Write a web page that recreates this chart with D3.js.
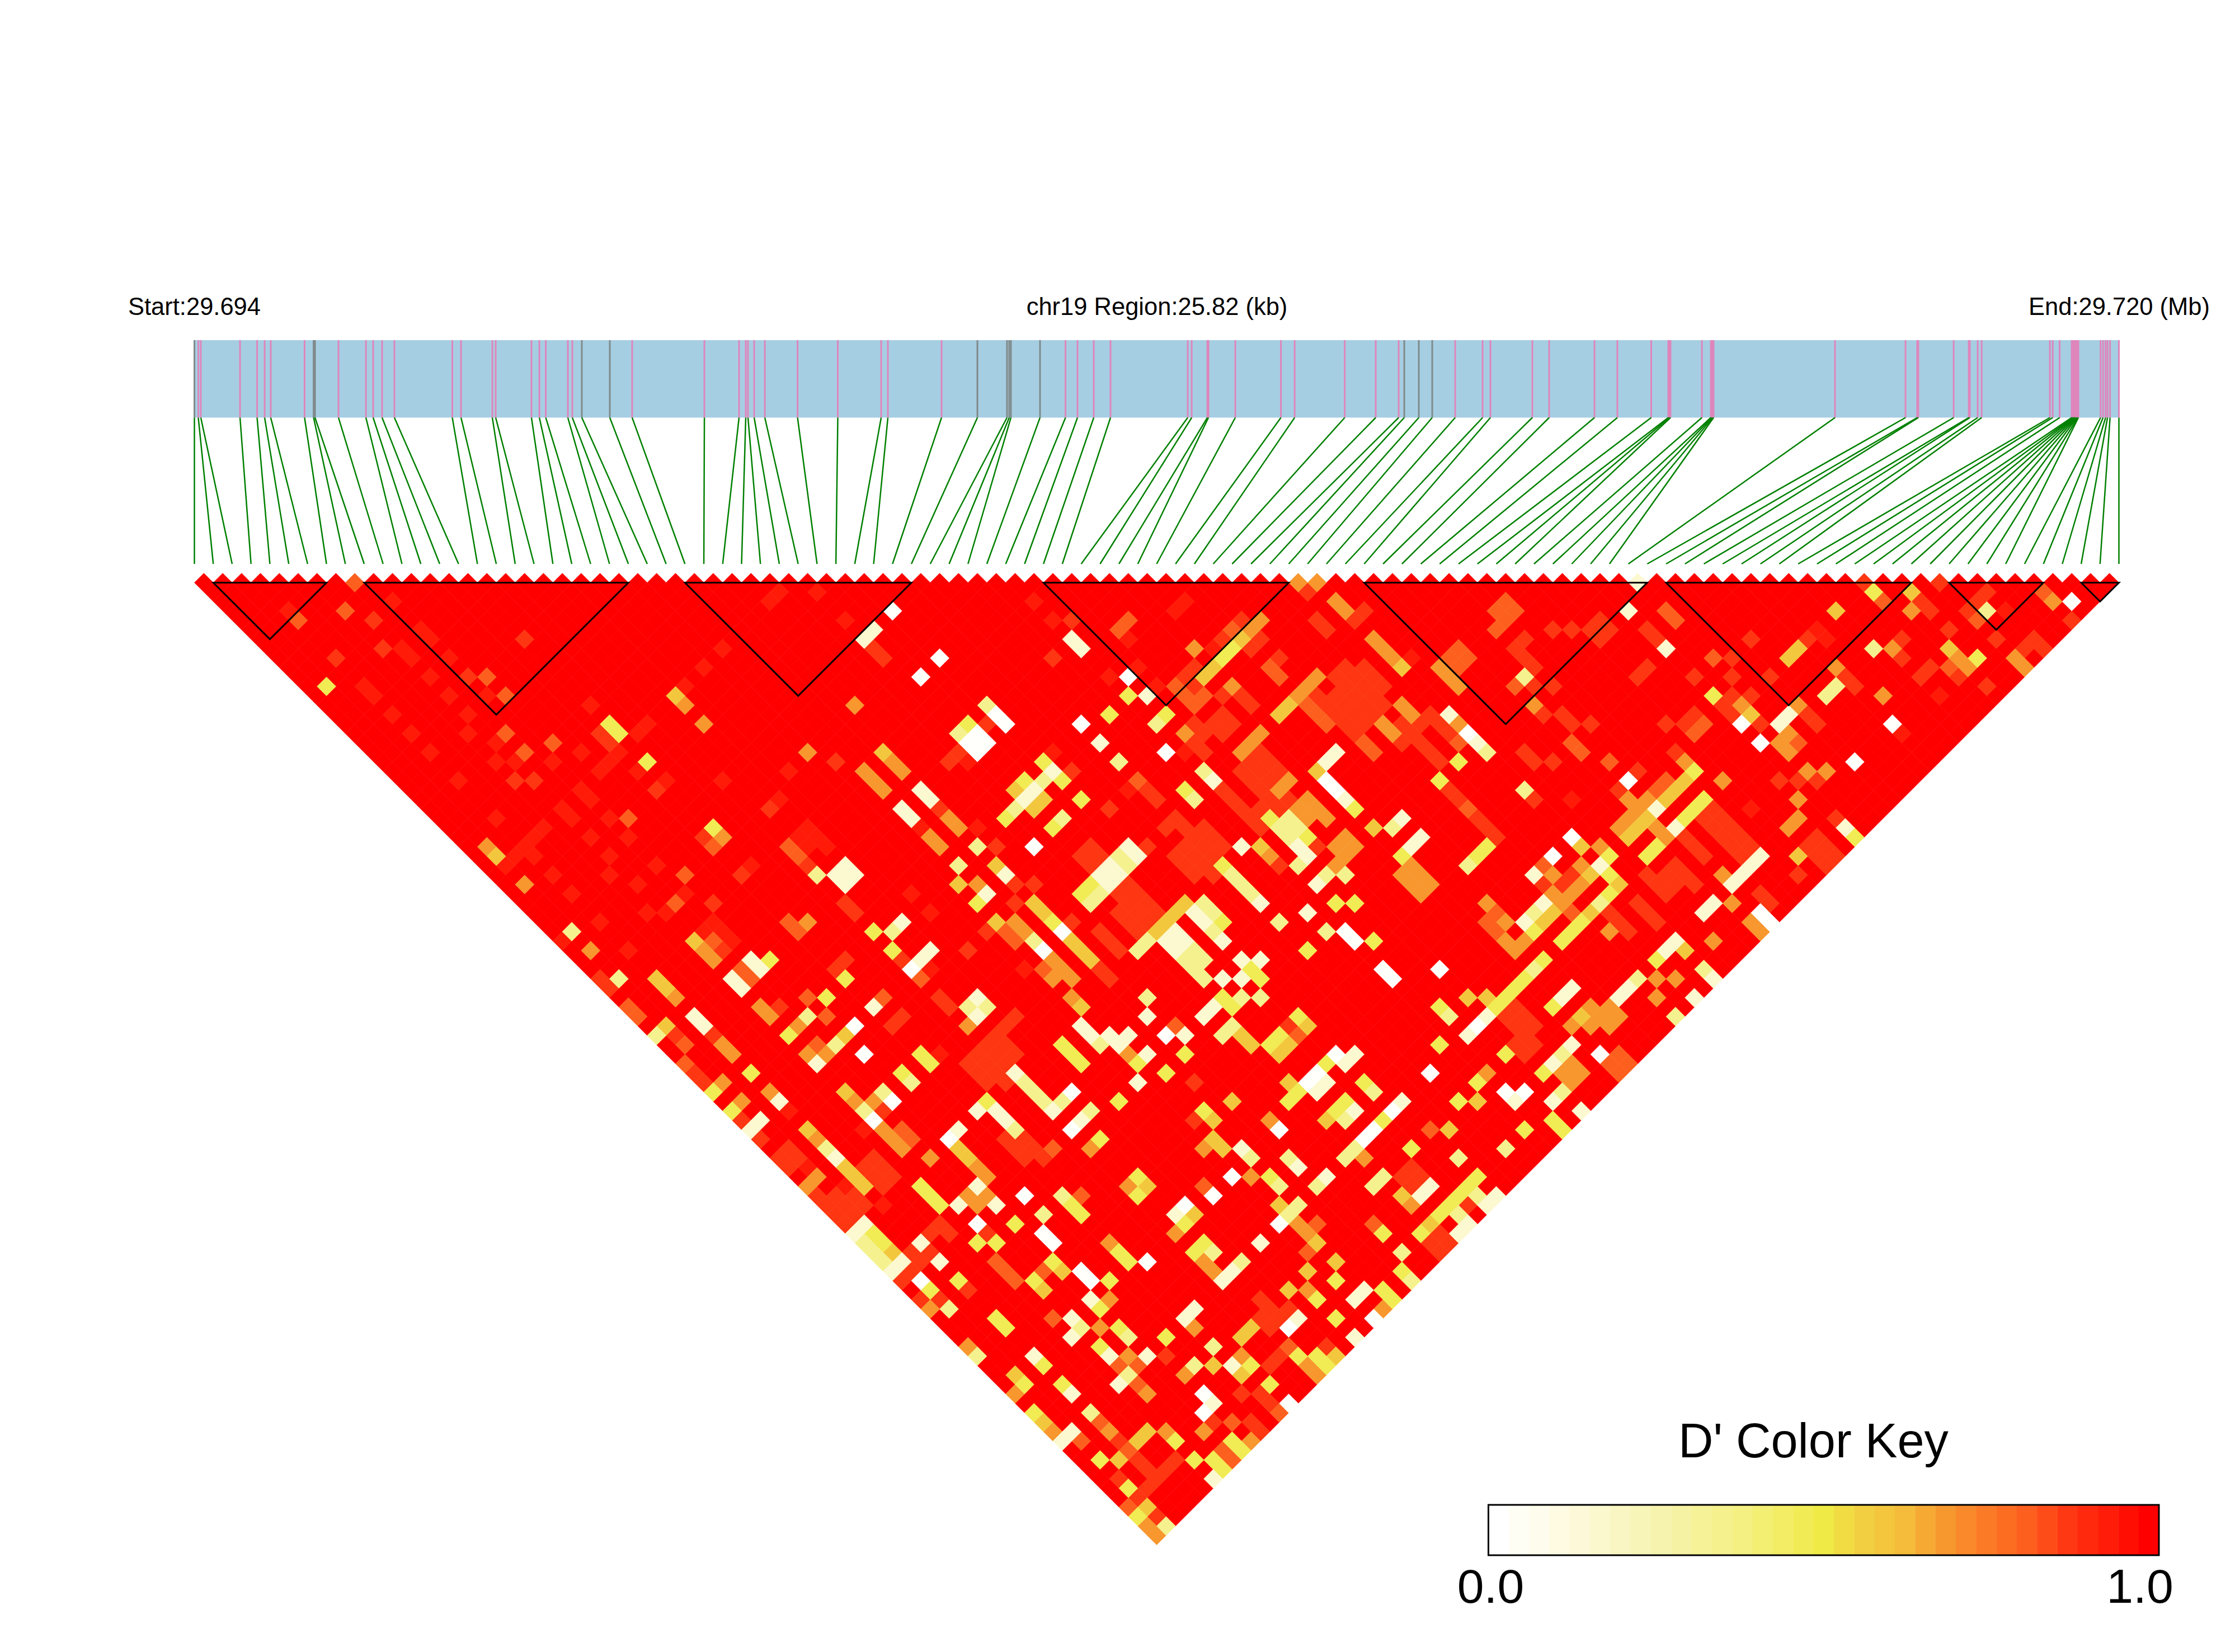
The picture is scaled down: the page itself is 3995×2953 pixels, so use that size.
<!DOCTYPE html>
<html><head><meta charset="utf-8">
<script src="https://cdnjs.cloudflare.com/ajax/libs/d3/7.8.5/d3.min.js"></script>
<style>html,body{margin:0;padding:0;background:#fff}svg{display:block}text{font-family:"Liberation Sans",Arial,sans-serif;fill:#000}</style>
</head><body><svg id="c" width="3995" height="2953"></svg>
<script>
// D' levels
const W=0.01,C=0.15,L=0.34,Y=0.47,G=0.59,O=0.69,D=0.81,E=0.88,F=0.94;
const snpCount=103;
const regionSpan=25820;
const regionStart="Start:29.694", regionName="chr19 Region:25.82 (kb)", regionEnd="End:29.720 (Mb)";
const keyTitle="D' Color Key", keyLabels=["0.0","1.0"];
// physical positions on the region (bp offset from start)
const snpPos=[0,52,86,612,841,942,1024,1478,1599,1618,1933,2301,2398,2518,2683,3460,3577,3997,4042,4522,4628,4714,5010,5070,5198,5573,5873,6842,7307,7397,7427,7510,7653,8092,8632,9214,9304,10024,10505,10902,10932,10955,11345,11687,11848,12066,12291,13327,13380,13590,13605,13965,14577,14761,15433,15849,16157,16232,16427,16607,16915,17283,17388,17950,18176,18784,19091,19545,19774,19789,19804,20225,20345,20357,20370,20382,22011,22957,23114,23129,23603,23805,23820,23925,23978,24894,24932,25025,25186,25201,25212,25224,25235,25246,25257,25269,25276,25574,25607,25641,25667,25701,25820];
const greyMarkers=[0,8,9,24,25,38,39,40,41,42,57,58,59];
// LD blocks [first snp, last snp]
const blocks=[[1,7],[9,23],[26,38],[45,58],[62,77],[78,91],[93,98],[100,102]];
// cell readings: [i+j, j-i-1, D'] ; every pair not listed has D'=1
const cellsBands=[[116,23,E],[115,24,E],[118,23,O],[119,24,O],[120,25,O],[117,24,O],[118,25,O],[114,9,D],[115,10,D],[115,8,E],[121,10,E],[122,11,E],[123,12,E],[124,13,E],[125,14,E],[122,9,E],[123,10,E],[124,11,E],[125,12,E],[126,13,E],[119,12,E],[120,13,E],[121,14,E],[122,15,E],[123,16,E],[121,12,E],[122,13,E],[123,14,E],[124,15,E],[128,15,E],[129,16,E],[130,17,E],[131,18,E],[132,19,E],[131,14,E],[132,15,E],[133,16,E],[134,17,D],[133,22,E],[134,23,E],[135,24,D],[136,25,E],[137,26,E],[138,27,E],[137,34,O],[138,35,D],[139,36,O],[138,37,D],[139,38,O],[137,36,D],[131,31,O],[132,32,O],[133,33,O],[134,32,E],[135,33,E],[134,34,O],[135,35,O],[136,36,D],[99,32,E],[100,33,E],[101,34,E],[102,35,E],[98,33,E],[99,34,E],[100,35,E],[101,36,E],[98,35,E],[99,36,E],[100,37,E],[105,28,E],[106,29,E],[107,30,E],[108,31,E],[106,27,E],[107,28,E],[108,29,E],[113,24,E],[121,28,O],[122,29,O],[123,28,O],[122,27,O],[121,30,O],[128,31,O],[129,32,O],[130,33,O],[131,32,O],[125,33,E],[126,34,D],[127,35,E],[109,22,E],[110,23,E],[111,24,E],[112,25,E],[113,26,E],[111,20,E],[112,21,E],[113,22,E],[114,23,E],[115,25,E],[116,26,E],[143,32,E],[144,33,O],[145,34,O],[146,35,D],[147,32,O],[146,33,O],[145,32,E],[146,31,E],[143,30,D],[154,31,E],[155,32,E],[156,33,E],[156,31,E],[157,32,E],[157,30,E],[158,31,E],[159,32,E],[150,35,E],[151,36,E],[152,37,E],[153,34,E],[154,35,E],[155,36,E],[162,27,E],[163,28,E],[164,29,E],[163,26,E],[164,27,E],[165,28,E],[158,27,E],[159,28,E],[160,29,E],[166,33,E],[167,34,E],[172,27,E],[173,28,E],[174,29,E],[171,28,E],[172,29,E],[173,30,E],[170,31,E],[178,24,F],[142,8,E],[143,9,E],[144,10,E],[140,7,E],[141,8,E],[142,9,E],[141,6,E],[84,49,E],[85,50,E],[86,51,E],[85,52,E],[84,53,E],[86,53,E],[86,59,E],[87,60,E],[88,61,E],[89,60,E],[90,61,E],[91,60,D],[88,59,E],[85,72,D],[86,73,D],[87,74,D],[103,71,E],[104,72,E],[105,73,E],[103,73,E],[104,74,E],[104,54,O],[105,55,O],[106,53,E],[113,76,E],[114,77,E],[115,78,E],[116,77,E],[113,78,E],[114,79,E],[112,50,O],[113,51,O],[114,52,O],[113,49,E],[148,45,O],[149,46,O],[150,47,O],[151,46,O],[150,45,O],[146,53,O],[147,52,O],[150,51,D],[151,52,D],[152,51,D],[151,50,D],[140,60,D],[141,61,D],[142,62,D],[141,59,E],[142,60,D],[143,61,D],[117,68,O],[118,69,O],[119,68,D],[125,68,D],[131,70,E],[132,71,E],[133,70,E],[132,69,E],[140,45,E],[141,46,E],[139,46,E],[140,47,E],[141,48,E],[142,47,E],[143,47,E],[142,49,E],[140,49,E],[141,50,E]];
const cellsUpperLeft=[[17,0,D],[21,2,F],[10,3,F],[11,4,D],[16,3,D],[19,4,E],[24,5,F],[25,6,F],[35,6,E],[20,7,E],[22,7,F],[23,8,F],[15,8,E],[27,8,F],[29,10,E],[31,10,D],[25,10,F],[14,11,Y],[18,11,F],[19,12,F],[31,12,F],[33,12,D],[27,12,F],[21,14,F],[29,14,F],[42,13,F],[52,11,F],[51,12,G],[52,13,O],[54,15,O],[70,13,O],[62,1,F],[61,2,F],[66,1,F],[69,4,F],[56,7,F],[54,9,F],[44,15,Y],[45,16,Y],[43,16,E],[44,17,E],[48,15,F],[47,16,F],[45,18,F],[33,16,D],[29,16,F],[23,16,F],[32,17,F],[38,17,D],[35,18,D],[25,18,F],[41,18,F],[32,19,F],[34,19,F],[38,19,F],[48,19,Y],[44,19,F],[43,20,F],[47,20,F],[65,18,O],[68,19,E],[63,20,F],[71,20,O],[28,21,F],[34,21,E],[36,21,E],[50,21,F],[49,22,E],[56,21,F],[41,22,F],[42,23,F],[62,23,F],[61,24,E],[39,24,F],[40,25,F],[32,25,F],[44,25,F],[46,25,D],[60,26,E],[37,26,F],[36,27,F],[55,26,Y],[54,27,E],[56,27,O],[55,28,D],[42,27,F],[46,27,F],[31,28,O],[32,29,G],[34,29,F],[35,28,F],[36,29,F],[33,30,F],[44,29,F],[49,30,F],[65,26,F],[64,27,F],[66,27,F],[65,28,F],[67,28,F],[63,28,D],[64,29,D],[65,30,E],[66,31,L],[69,30,C],[68,31,C],[70,31,C],[69,32,C],[59,30,F],[58,31,E],[52,31,D],[38,31,F],[44,31,F],[35,32,O],[47,32,F],[40,33,F],[52,33,F],[51,34,D],[55,34,E],[69,34,E],[48,35,F],[50,35,F],[70,35,E],[43,36,F],[55,36,F],[63,36,D],[65,36,O],[64,37,D],[40,37,L],[39,38,F],[54,37,F],[56,37,F],[53,38,G],[55,38,D],[57,38,F],[54,39,O],[56,39,E],[55,40,O],[42,39,O],[46,39,F],[59,40,C],[61,40,Y],[60,41,C],[58,41,D],[59,42,D],[57,42,C],[58,43,C],[43,42,E],[44,43,E],[45,42,L],[49,42,G],[50,43,G],[68,41,E],[69,40,E],[69,42,Y],[71,37,Y]];
const cellsUpperMiddle=[[74,3,W],[72,5,C],[71,6,C],[72,7,E],[73,8,E],[79,8,W],[77,10,W],[89,2,F],[91,4,F],[93,4,E],[93,6,C],[94,7,C],[91,8,E],[99,4,D],[98,5,D],[99,6,F],[105,2,F],[104,3,F],[101,1,F],[100,9,F],[97,10,F],[99,10,W],[99,12,Y],[101,12,C],[102,11,F],[104,11,D],[105,10,E],[106,7,O],[113,4,O],[112,5,O],[111,6,G],[110,7,Y],[109,8,Y],[108,9,G],[107,10,G],[111,4,E],[110,5,D],[109,6,E],[113,6,E],[112,7,E],[108,7,F],[106,9,E],[110,11,O],[109,12,E],[111,12,E],[112,13,E],[105,12,D],[107,12,D],[106,13,D],[106,11,E],[109,14,E],[108,15,E],[110,15,E],[109,16,E],[103,14,Y],[102,15,L],[97,14,Y],[94,15,W],[96,17,C],[98,19,L],[103,18,W],[105,16,O],[106,15,E],[107,16,E],[106,17,E],[107,18,E],[105,18,F],[84,13,L],[85,14,W],[86,15,W],[84,15,E],[82,15,Y],[81,16,L],[83,16,W],[82,17,W],[84,17,W],[83,18,W],[81,18,E],[80,19,E],[82,19,F],[73,18,G],[74,19,O],[75,20,O],[72,21,O],[73,22,O],[77,22,C],[78,23,C],[75,24,C],[76,25,C],[79,24,E],[80,25,O],[81,26,O],[83,26,F],[78,27,O],[79,28,O],[77,26,F],[83,28,L],[85,28,E],[89,28,W],[81,30,L],[81,32,G],[85,30,G],[86,31,C],[87,32,E],[89,32,E],[83,32,O],[84,33,C],[83,34,Y],[87,34,E],[76,33,F],[78,35,F],[75,36,C],[74,37,L],[72,37,Y],[74,39,Y],[78,39,C],[77,40,C],[76,41,W],[77,42,D],[82,39,E],[75,40,E],[78,41,F],[90,19,Y],[91,18,F],[91,20,C],[93,20,E],[90,21,L],[92,21,Y],[88,21,Y],[87,22,G],[89,22,C],[88,23,C],[90,23,G],[87,24,L],[89,24,G],[86,25,Y],[92,25,L],[91,26,Y],[94,23,Y],[97,24,E],[100,21,D],[99,22,F],[101,22,E],[102,23,E],[105,22,Y],[106,23,L],[107,20,L],[108,21,C],[104,25,E],[103,26,E],[105,26,E],[107,26,E],[108,27,E],[109,28,E],[104,29,E],[105,30,E],[106,31,E],[111,28,C],[113,28,G],[114,29,O],[115,30,E],[109,30,Y],[110,31,L],[111,32,L],[112,33,L],[113,34,C],[99,28,C],[100,29,C],[98,29,L],[99,30,L],[97,30,C],[98,31,C],[96,31,C],[97,32,C],[95,32,Y],[94,33,Y],[96,33,L],[95,34,L],[101,28,E],[95,28,E],[94,29,E],[96,29,E],[95,30,E],[89,34,G],[90,35,G],[91,36,Y],[92,37,W],[93,36,E],[85,36,G],[87,36,O],[84,37,E],[86,37,D],[88,37,O],[87,38,D],[89,38,L],[90,39,W],[93,38,G],[94,39,G],[95,40,G],[91,40,O],[92,41,O],[93,42,O],[90,41,D],[91,42,O],[96,41,E],[97,42,E],[88,41,F],[96,37,E],[97,38,E],[98,39,E],[105,34,G],[104,35,G],[103,36,G],[102,37,G],[101,38,L],[100,39,L],[103,38,C],[104,37,C],[104,39,C],[105,38,C],[105,40,L],[106,41,L],[107,42,L],[106,39,L],[107,40,L],[107,34,L],[106,35,C],[108,35,L],[107,36,C],[109,36,Y],[108,37,L],[109,38,C],[111,40,C],[113,40,C],[112,41,Y],[111,42,C],[113,42,Y],[109,42,C],[115,5,E],[117,0,O],[119,0,O],[118,1,E],[121,2,O],[122,3,O],[124,3,E],[119,4,E],[120,5,E],[123,4,E],[125,6,O],[126,7,O],[127,8,O],[128,9,G],[129,8,F],[123,7,E],[124,9,E],[125,10,E],[126,11,E],[117,12,O],[118,11,O],[119,10,O],[116,13,G],[115,14,G],[118,13,D],[119,14,D],[120,15,D],[113,18,E],[112,19,E],[114,19,E],[113,20,E],[115,20,E],[114,21,E],[116,21,O],[115,22,O],[111,18,O],[112,17,O],[113,16,O],[121,18,C],[120,19,C],[119,20,G],[120,21,W],[121,22,W],[122,23,C],[123,24,Y],[123,19,E],[126,15,O],[127,16,O],[128,17,E],[124,17,D],[125,18,D],[133,14,C],[134,15,O],[135,16,W],[136,17,C],[137,18,L],[134,19,Y],[132,21,Y],[128,13,O],[129,14,O],[130,15,E],[132,9,O],[133,10,O],[134,11,O],[134,7,D],[133,8,D],[135,8,D],[134,9,D],[139,2,D],[138,3,D],[140,3,D],[139,4,D],[138,5,D],[114,25,Y],[116,25,L],[115,26,L],[117,26,L],[116,27,L],[118,27,Y],[117,28,C],[118,29,C],[117,30,L],[119,28,E],[119,32,C],[120,31,L],[122,31,L],[121,34,Y],[123,34,Y],[118,35,C],[120,37,L],[115,36,L],[118,39,Y],[122,37,W],[123,38,W],[125,38,Y],[128,25,C],[127,26,L],[130,27,C],[129,28,C],[128,29,Y],[125,26,G],[137,28,Y],[136,29,Y],[135,30,L],[132,34,Y],[131,35,L],[130,36,Y],[132,41,W],[126,41,W],[127,42,W],[135,41,C],[136,42,C],[129,30,O],[130,31,O],[125,35,O],[126,36,O],[127,37,O],[126,38,O]];
const cellsUpperRight=[[153,0,C],[185,0,E],[178,1,Y],[182,1,G],[177,0,E],[179,2,D],[145,1,E],[144,2,E],[152,3,C],[156,3,D],[157,4,D],[140,3,D],[146,5,E],[144,5,E],[149,4,E],[148,5,E],[150,5,E],[149,6,E],[154,5,E],[155,6,E],[156,7,C],[174,3,G],[165,6,E],[171,6,E],[170,7,G],[169,8,G],[172,5,F],[173,6,F],[183,2,E],[184,3,E],[182,3,O],[180,4,O],[179,5,O],[178,7,L],[180,7,O],[181,6,E],[181,8,E],[186,5,E],[186,7,G],[187,8,O],[189,8,Y],[188,9,O],[186,9,D],[184,9,E],[183,10,E],[187,10,E],[190,11,E],[185,12,F],[191,6,E],[190,3,L],[188,3,E],[189,4,D],[190,1,E],[189,2,E],[192,3,F],[196,1,D],[197,2,O],[199,2,W],[199,4,E],[195,6,E],[196,7,E],[193,8,O],[194,9,O],[194,7,E],[161,8,D],[163,8,E],[163,10,E],[159,10,E],[167,10,E],[154,9,E],[153,10,E],[141,10,L],[140,11,D],[144,11,E],[142,11,E],[161,12,Y],[163,12,E],[165,12,E],[164,13,O],[165,14,G],[163,14,E],[164,15,W],[166,15,E],[166,17,W],[162,13,E],[169,14,C],[168,15,C],[169,16,O],[168,17,O],[170,17,D],[169,18,O],[170,13,O],[171,14,E],[172,15,E],[174,9,O],[174,11,L],[173,12,L],[175,10,E],[176,11,E],[179,12,O],[180,15,W],[181,16,F],[142,13,O],[143,14,E],[145,14,E],[146,15,E],[148,15,E],[156,15,E],[159,14,E],[158,15,E],[160,15,D],[159,16,D],[146,17,D],[147,18,D],[141,18,E],[142,19,E],[144,19,E],[150,19,D],[149,21,E],[152,21,W],[151,22,E],[153,20,E],[157,18,E],[158,19,O],[159,20,Y],[158,21,G],[157,22,G],[156,23,G],[155,24,C],[154,23,O],[156,21,D],[155,22,D],[160,23,Y],[159,24,Y],[158,25,Y],[157,26,C],[155,26,O],[156,27,O],[154,25,G],[153,26,G],[152,27,G],[152,25,O],[151,26,O],[155,28,Y],[154,29,Y],[153,24,O],[152,23,O],[161,24,E],[160,25,E],[162,25,E],[161,26,E],[141,22,L],[142,23,E],[146,23,F],[165,24,F],[170,23,O],[170,25,O],[169,26,O],[168,21,E],[170,21,E],[171,20,O],[173,20,O],[172,21,E],[176,19,W],[162,21,O],[175,26,C],[176,27,Y],[174,25,E],[170,29,G],[166,29,C],[165,30,C],[164,31,C],[163,32,C],[162,31,O],[146,27,W],[147,28,G],[144,29,W],[142,31,C],[149,28,O],[150,29,Y],[149,30,C],[148,31,G],[150,31,Y],[151,32,G],[150,33,Y],[149,34,L],[148,35,G],[147,36,Y],[146,37,Y],[145,38,Y],[147,30,O],[144,31,O],[143,34,C],[142,35,L],[141,36,C],[144,35,G],[143,36,G],[142,37,Y],[161,34,C],[160,35,C],[163,34,O],[166,35,W],[167,36,W],[166,37,O],[165,36,O],[157,38,C],[156,39,C],[155,40,Y],[158,39,G],[150,37,O],[161,38,O],[160,41,L],[161,42,C],[153,42,L],[152,43,C],[155,42,O],[157,42,O],[143,40,Y],[142,41,L],[141,42,Y],[140,43,Y],[146,43,C],[140,39,O],[141,38,O]];
const cellsLowerLeft=[[46,45,D],[47,46,D],[50,47,G],[49,48,L],[51,48,E],[52,49,D],[52,51,D],[53,52,E],[54,53,E],[56,53,O],[55,54,Y],[53,46,C],[54,47,C],[55,48,E],[56,49,O],[57,50,O],[51,44,O],[59,52,Y],[61,54,O],[62,55,C],[63,56,F],[58,55,O],[57,56,Y],[60,57,C],[59,58,C],[58,57,E],[60,59,E],[65,58,G],[66,59,O],[67,60,L],[68,61,C],[69,62,G],[70,63,G],[71,64,G],[63,60,E],[62,61,E],[64,61,E],[63,62,E],[65,62,F],[66,63,O],[65,64,O],[66,65,E],[67,66,E],[68,67,E],[69,68,E],[68,65,E],[69,66,E],[70,67,E],[70,65,E],[71,66,E],[69,64,F],[72,61,E],[71,62,E],[73,62,E],[72,63,E],[74,63,E],[73,64,E],[73,66,F],[71,68,C],[70,69,C],[72,69,Y],[71,70,L],[73,70,Y],[72,71,L],[74,71,G],[73,72,L],[75,72,C],[74,73,C],[76,73,E],[75,74,E],[77,74,W],[78,75,Y],[77,76,E],[78,77,O],[80,77,L],[79,76,E],[77,70,C],[76,71,E],[78,71,E],[77,72,E],[79,72,C],[81,74,Y],[82,75,E],[83,68,W],[83,70,Y],[85,70,Y],[84,69,E],[80,69,E],[79,68,E],[78,69,E],[87,68,Y],[90,69,W],[91,70,W],[90,67,L],[88,65,W],[85,66,C],[81,66,C],[83,64,C],[82,65,O],[84,65,O],[83,66,O],[84,63,O],[83,62,O],[80,59,W],[81,58,C],[81,60,G],[82,61,G],[77,64,Y],[78,65,Y],[79,66,Y],[84,55,Y],[83,56,C],[85,56,C],[86,57,C],[87,58,L],[86,59,E],[87,52,C],[88,53,L],[89,54,L],[90,55,L],[91,56,C],[92,55,L],[93,54,W],[95,56,L],[94,57,C],[93,58,W],[96,59,Y],[95,60,O],[75,52,Y],[76,53,L],[77,50,Y],[78,51,Y],[79,50,F],[73,54,L],[74,55,W],[71,56,L],[72,57,W],[69,54,G],[70,55,O],[72,55,O],[73,56,E],[73,58,O],[74,59,O],[75,60,O],[75,58,D],[76,59,D],[71,58,F],[78,61,O],[70,47,W],[69,48,G],[68,49,L],[67,50,O],[66,51,C],[65,50,O],[67,46,D],[66,49,D],[65,46,L],[64,47,O],[63,48,Y],[67,44,Y],[65,44,D],[62,45,E],[60,45,O],[61,46,O],[72,45,C],[73,44,D],[74,47,E],[75,46,E],[71,50,W],[83,44,C],[82,45,L],[84,45,L],[83,46,C],[82,47,O],[79,44,E],[80,45,E],[82,51,E],[84,51,E],[83,50,E],[83,52,E],[85,48,E],[86,49,E],[87,50,E],[87,46,E],[86,47,E],[92,49,Y],[93,50,Y],[94,51,Y],[94,45,G],[93,44,O],[95,47,C],[94,47,C],[96,46,C],[97,47,C],[95,48,C],[97,48,C],[96,49,L],[98,49,C],[99,48,C],[101,46,C],[101,44,L],[100,51,Y],[99,50,O],[101,50,C],[100,53,C],[98,55,Y],[100,63,Y],[99,64,O],[101,64,G],[100,65,Y],[92,65,L],[93,66,Y],[94,67,Y],[94,65,D],[98,71,Y],[99,72,Y],[101,72,W],[97,70,O],[91,72,Y],[92,73,G],[90,73,D],[94,73,W],[95,74,W],[97,74,Y],[87,73,D],[89,74,Y],[90,75,G],[95,76,C],[96,77,Y],[97,76,O],[85,78,Y],[86,79,Y],[93,78,C],[94,79,L],[93,80,C],[96,79,O],[98,79,Y],[99,80,L],[96,81,Y],[97,82,L],[82,81,O],[83,82,L],[89,82,C],[91,78,D]];
const cellsLowerRight=[[108,45,C],[107,46,C],[109,44,Y],[110,45,Y],[111,44,L],[113,44,L],[110,47,L],[109,48,L],[111,48,G],[112,49,G],[117,46,Y],[118,47,G],[116,47,E],[117,48,D],[115,48,Y],[114,49,Y],[116,49,G],[115,50,G],[103,48,W],[105,48,C],[104,47,D],[105,50,Y],[103,52,Y],[108,54,Y],[110,55,G],[107,56,Y],[108,57,G],[106,57,E],[103,55,G],[104,56,G],[105,57,G],[103,57,O],[112,58,L],[113,59,L],[115,58,W],[114,57,O],[111,60,C],[112,61,L],[108,59,G],[109,60,G],[107,60,O],[121,50,W],[120,51,Y],[123,50,C],[122,51,C],[119,52,W],[120,53,C],[118,53,W],[117,54,Y],[119,54,C],[116,55,Y],[116,53,G],[124,53,Y],[125,54,L],[122,55,Y],[121,56,Y],[123,56,C],[122,57,L],[120,57,G],[128,55,C],[127,56,W],[126,57,Y],[125,58,W],[124,59,W],[123,60,L],[122,61,L],[124,61,O],[131,52,W],[132,49,Y],[132,45,Y],[133,46,L],[136,47,W],[135,48,C],[137,46,C],[138,45,Y],[137,44,G],[139,44,Y],[135,44,G],[144,45,Y],[145,44,C],[147,46,G],[146,47,O],[148,47,O],[151,44,C],[155,44,O],[159,44,C],[157,46,L],[149,50,W],[146,49,C],[145,50,L],[144,51,C],[143,52,Y],[146,51,O],[145,52,O],[139,50,Y],[137,52,O],[136,53,Y],[139,54,W],[141,54,W],[140,55,C],[134,55,Y],[136,55,G],[133,58,G],[131,58,D],[129,60,Y],[145,54,L],[144,55,C],[144,57,Y],[145,58,Y],[141,58,Y],[147,56,C],[143,59,O],[139,60,L],[126,63,L],[125,64,L],[131,64,C],[130,65,C],[128,65,G],[129,66,O],[132,62,C],[134,61,L],[136,63,Y],[135,64,Y],[134,65,Y],[133,66,Y],[132,67,Y],[135,66,E],[136,65,L],[137,66,C],[138,65,C],[134,67,L],[135,68,C],[134,69,C],[131,68,G],[130,69,Y],[110,63,W],[112,63,O],[114,63,Y],[115,64,L],[116,61,L],[117,62,C],[120,63,C],[119,64,L],[108,65,W],[107,64,D],[105,66,W],[104,67,C],[105,68,Y],[106,67,G],[104,69,O],[115,68,W],[116,67,L],[117,66,L],[115,66,G],[113,70,C],[106,71,Y],[107,70,Y],[108,71,L],[107,72,O],[108,73,O],[111,72,L],[110,73,C],[109,74,C],[119,70,G],[118,71,D],[121,72,G],[121,74,Y],[118,73,G],[126,69,Y],[128,71,L],[128,73,Y],[129,74,L],[116,75,G],[119,76,Y],[118,75,O],[123,76,C],[124,75,C],[126,75,Y],[127,76,Y],[126,77,O],[125,78,W],[123,80,C],[121,78,Y],[117,78,C],[116,79,W],[106,77,C],[105,78,C],[106,79,O],[103,80,Y],[108,81,L],[112,79,G],[111,80,G],[117,82,Y],[119,82,Y],[121,82,G],[129,62,E],[128,63,E],[130,63,E],[129,64,E]];
const cellsBottom=[[82,81,O],[83,82,L],[89,82,C],[90,83,Y],[87,84,G],[88,85,Y],[87,86,O],[89,88,Y],[90,89,G],[91,90,O],[92,91,C],[93,90,C],[94,91,D],[92,85,Y],[93,86,C],[95,88,L],[96,89,D],[97,90,O],[98,91,E],[100,91,G],[101,90,G],[99,92,D],[96,93,Y],[98,93,G],[99,96,Y],[100,93,E],[101,94,E],[98,95,E],[99,98,D],[100,99,Y],[101,98,G],[102,99,E],[101,100,O],[103,100,L],[102,101,O],[104,93,E],[103,94,E],[102,95,E],[101,96,E],[100,97,E],[106,83,L],[105,84,O],[108,83,G],[100,88,D],[101,86,O],[100,85,D],[99,84,L],[98,85,C],[101,82,C],[99,82,O],[100,83,D],[96,81,Y],[97,82,C],[98,83,D],[103,82,E],[107,86,W],[108,87,C],[107,88,W],[108,81,L],[109,83,C],[103,90,O],[104,91,Y],[107,90,O],[106,93,Y],[108,93,Y],[109,94,Y],[108,95,C],[110,83,C],[111,82,O],[112,83,Y],[111,84,G],[114,83,E],[115,82,E],[116,81,D],[117,82,Y],[119,82,Y],[121,82,G],[118,83,O],[120,83,Y],[119,84,O],[120,81,E],[114,85,Y],[113,86,E],[111,86,E],[114,87,E],[115,88,D],[116,87,W],[108,89,E],[110,89,D],[112,89,E],[113,90,E],[112,91,O],[110,91,Y],[111,92,Y],[109,92,D],[110,93,D]];
// colour key steps, read from the key (33 blocks)
const keyStops=[0,0.125,0.25,0.375,0.5,0.5625,0.625,0.6875,0.75,0.8125,0.875,0.9375,1];
const keyColors=["#ffffff","#fdf9d8","#f6f3ae","#f4f082","#f0ea46","#f2cf40","#f4bc3a","#f7982e","#fb7a26","#fd5f1e","#fe3812","#ff1c08","#ff0000"];
const keySteps=33;

const svg=d3.select("#c");
const color=d3.scaleLinear().domain(keyStops).range(keyColors).clamp(true);
const x=d3.scaleLinear().domain([0,snpCount-1]).range([347.5,3787.5]);
const halfW=(x(1)-x(0))/2;
const y=d3.scaleLinear().domain([1,snpCount-1]).range([1041.5,1041.5+(snpCount-2)*halfW]);
const band=d3.scaleLinear().domain([0,regionSpan]).range([347.5,3787.5]);

// LD cells
const readings=new Map();
for(const list of [cellsBands,cellsUpperLeft,cellsUpperMiddle,cellsUpperRight,cellsLowerLeft,cellsLowerRight,cellsBottom])
  for(const [s,r,v] of list){ if((s+r+1)%2===0) readings.set((s-r-1)/2+"_"+(s+r+1)/2,v); }
const cells=[];
for(let i=0;i<snpCount-1;i++)for(let j=i+1;j<snpCount;j++)cells.push({i,j,v:readings.has(i+"_"+j)?readings.get(i+"_"+j):1});
cells.sort((a,b)=>d3.descending(a.v,b.v));
svg.append("g").selectAll("path").data(cells).join("path")
 .attr("d",d=>{const cx=x((d.i+d.j)/2),cy=y(d.j-d.i);return `M${cx-halfW},${cy}L${cx},${cy-halfW}L${cx+halfW},${cy}L${cx},${cy+halfW}Z`;})
 .attr("fill",d=>color(d.v)).attr("stroke",d=>color(d.v)).attr("stroke-width",0.7);

// block outlines
svg.append("g").selectAll("path").data(blocks).join("path")
 .attr("d",([a,b])=>`M${x(a)},${y(1)}L${x(b)},${y(1)}L${x((a+b)/2)},${y(1+b-a)}Z`)
 .attr("fill","none").attr("stroke","#000").attr("stroke-width",3);

// region band
const bandTop=608,bandBottom=746.5,lineBottom=1008;
svg.append("rect").attr("x",band(0)).attr("y",bandTop).attr("width",band.range()[1]-band.range()[0]).attr("height",bandBottom-bandTop).attr("fill","#a6cee3");
svg.append("g").selectAll("line").data(snpPos).join("line")
 .attr("x1",d=>band(d)).attr("x2",d=>band(d)).attr("y1",bandTop).attr("y2",bandBottom)
 .attr("stroke",(d,i)=>greyMarkers.includes(i)?"#808b8b":"#de86bc").attr("stroke-width",3);
svg.append("g").selectAll("line").data(snpPos).join("line")
 .attr("x1",d=>band(d)).attr("y1",bandBottom).attr("x2",(d,i)=>x(i)).attr("y2",lineBottom)
 .attr("stroke","#008000").attr("stroke-width",2.5);

// labels
svg.append("text").attr("x",229).attr("y",563).attr("font-size",43.5).text(regionStart);
svg.append("text").attr("x",2068).attr("y",563).attr("font-size",43.5).attr("text-anchor","middle").text(regionName);
svg.append("text").attr("x",3626).attr("y",563).attr("font-size",43.5).text(regionEnd);

// colour key
const keyX=d3.scaleLinear().domain([0,keySteps]).range([2660.5,3859]);
svg.append("g").selectAll("rect").data(d3.range(keySteps)).join("rect")
 .attr("x",d=>keyX(d)).attr("y",2690).attr("width",keyX(1)-keyX(0)+0.4).attr("height",90)
 .attr("fill",d=>color(d/(keySteps-1)));
svg.append("rect").attr("x",2660.5).attr("y",2690).attr("width",1198.5).attr("height",90).attr("fill","none").attr("stroke","#000").attr("stroke-width",3);
svg.append("text").attr("x",3000).attr("y",2605).attr("font-size",86.5).text(keyTitle);
svg.append("text").attr("x",2664.5).attr("y",2865).attr("font-size",86).attr("text-anchor","middle").text(keyLabels[0]);
svg.append("text").attr("x",3825).attr("y",2865).attr("font-size",86).attr("text-anchor","middle").text(keyLabels[1]);
</script></body></html>
